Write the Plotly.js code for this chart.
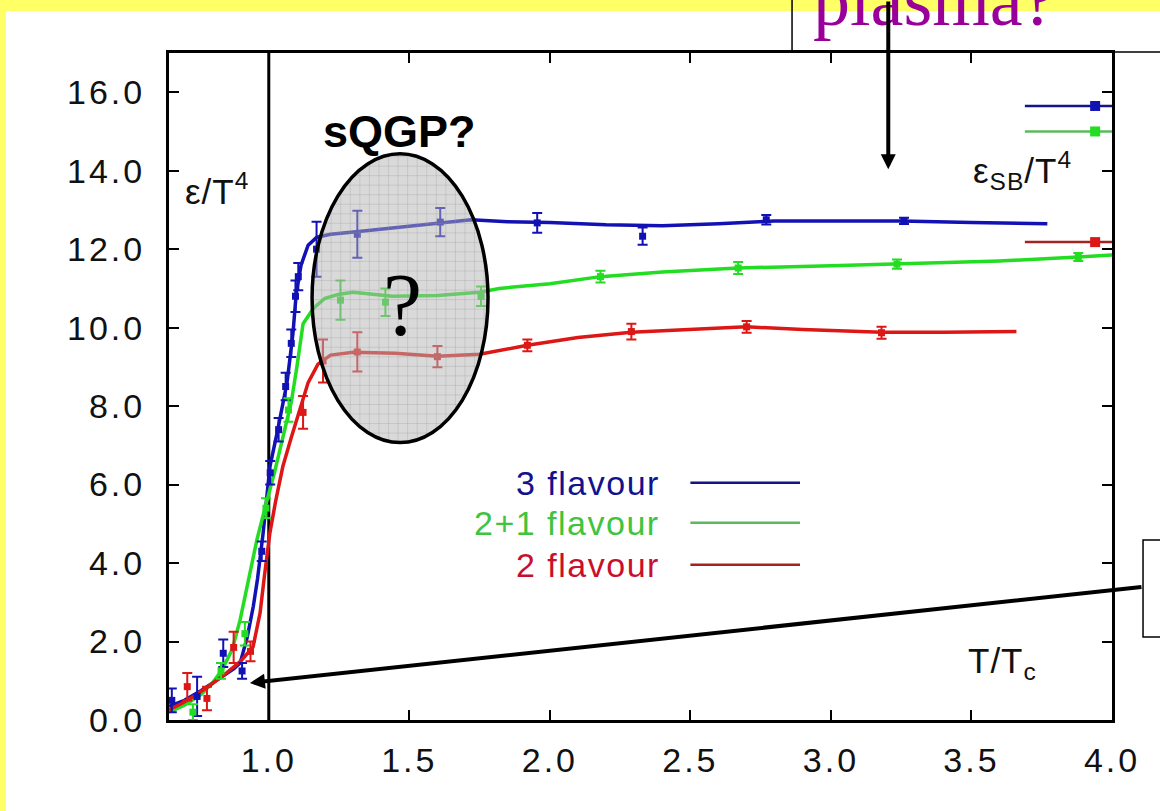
<!DOCTYPE html>
<html>
<head>
<meta charset="utf-8">
<script src="https://cdn.plot.ly/plotly-3.0.1.min.js"></script>
<style>
  html, body { margin: 0; padding: 0; background: #ffffff; }
  #chart { width: 1160px; height: 811px; }
  .xtick text, .ytick text { letter-spacing: 3px; }
</style>
</head>
<body>
<div id="chart"></div>
<script>
// Energy density over T^4 against T/Tc for lattice QCD with different flavour content.

const T_C = 1.0;

// Smooth curves through the lattice results
const flav3CurveT = [0.645, 0.70, 0.76, 0.82, 0.875, 0.898, 0.923, 0.945, 0.96, 0.98, 1.004, 1.03, 1.065, 1.086, 1.098, 1.115, 1.14, 1.17, 1.22, 1.32, 1.45, 1.60, 1.72, 1.85, 2.0, 2.2, 2.4, 2.6, 2.8, 3.0, 3.25, 3.5, 3.77];
const flav3CurveE = [0.35, 0.50, 0.75, 1.05, 1.30, 1.45, 2.10, 2.90, 3.60, 4.77, 6.46, 7.33, 8.60, 9.85, 10.9, 11.6, 12.1, 12.3, 12.38, 12.45, 12.55, 12.65, 12.75, 12.70, 12.68, 12.62, 12.60, 12.65, 12.72, 12.72, 12.72, 12.68, 12.65];

const flav21CurveT = [0.645, 0.70, 0.76, 0.80, 0.834, 0.87, 0.898, 0.93, 0.958, 0.99, 1.02, 1.05, 1.08, 1.10, 1.122, 1.16, 1.20, 1.25, 1.30, 1.44, 1.60, 1.75, 1.82, 2.0, 2.18, 2.4, 2.67, 3.0, 3.235, 3.6, 3.88, 4.0];
const flav21CurveE = [0.20, 0.38, 0.65, 0.95, 1.28, 1.80, 2.55, 3.60, 4.60, 5.50, 6.30, 7.20, 8.10, 9.00, 10.1, 10.5, 10.75, 10.85, 10.9, 10.8, 10.82, 10.9, 11.0, 11.12, 11.3, 11.42, 11.52, 11.58, 11.62, 11.70, 11.80, 11.85];

const flav2CurveT = [0.645, 0.69, 0.73, 0.79, 0.85, 0.90, 0.944, 0.969, 0.985, 1.004, 1.025, 1.05, 1.08, 1.11, 1.14, 1.175, 1.22, 1.30, 1.45, 1.60, 1.75, 1.92, 2.1, 2.29, 2.5, 2.7, 2.9, 3.18, 3.4, 3.66];
const flav2CurveE = [0.26, 0.42, 0.59, 0.88, 1.20, 1.50, 1.86, 2.73, 3.70, 4.77, 5.60, 6.46, 7.20, 7.90, 8.60, 9.07, 9.30, 9.37, 9.35, 9.27, 9.32, 9.55, 9.75, 9.88, 9.95, 10.02, 9.95, 9.88, 9.88, 9.90];

// Lattice data points with statistical errors
const flav3PtT   = [0.655, 0.745, 0.838, 0.905, 0.975, 1.005, 1.035, 1.06, 1.08, 1.095, 1.105, 1.17, 1.315, 1.61, 1.955, 2.33, 2.77, 3.26];
const flav3PtE   = [0.50, 0.60, 1.70, 1.25, 4.30, 6.30, 7.40, 8.50, 9.60, 10.8, 11.3, 12.0, 12.38, 12.69, 12.67, 12.33, 12.75, 12.72];
const flav3PtErr = [0.30, 0.50, 0.35, 0.20, 0.25, 0.30, 0.30, 0.35, 0.35, 0.40, 0.35, 0.70, 0.60, 0.36, 0.25, 0.22, 0.12, 0.08];

const flav21PtT   = [0.73, 0.83, 0.915, 0.99, 1.07, 1.255, 1.415, 1.755, 2.18, 2.67, 3.235, 3.88];
const flav21PtE   = [0.20, 1.25, 2.20, 5.40, 7.90, 10.7, 10.65, 10.8, 11.3, 11.52, 11.62, 11.8];
const flav21PtErr = [0.20, 0.20, 0.30, 0.25, 0.30, 0.50, 0.35, 0.25, 0.15, 0.15, 0.12, 0.10];

const flav2PtT   = [0.71, 0.78, 0.875, 0.935, 1.122, 1.193, 1.315, 1.60, 1.92, 2.29, 2.70, 3.18];
const flav2PtE   = [0.85, 0.55, 1.85, 1.75, 7.84, 9.15, 9.38, 9.26, 9.55, 9.90, 10.02, 9.87];
const flav2PtErr = [0.35, 0.30, 0.40, 0.25, 0.42, 0.55, 0.50, 0.27, 0.15, 0.20, 0.15, 0.15];

// Stefan-Boltzmann limits (3, 2+1, 2 flavours)
const sbLimits = [15.65, 15.0, 12.18];
const sbSegmentT = [3.69, 4.02];
const sbMarkerT = 3.94;

// Axis ticks
const xTickVals = [1.0, 1.5, 2.0, 2.5, 3.0, 3.5, 4.0];
const xTickText = ['1.0', '1.5', '2.0', '2.5', '3.0', '3.5', '4.0'];
const yTickVals = [0, 2, 4, 6, 8, 10, 12, 14, 16];
const yTickText = ['0.0', '2.0', '4.0', '6.0', '8.0', '10.0', '12.0', '14.0', '16.0'];

// Series names and colours
const seriesNames = ['3 flavour', '2+1 flavour', '2 flavour'];
const lineColors  = ['#1212b4', '#22dd22', '#dd1616'];
const textColors  = ['#12128e', '#3ec43e', '#c8102e'];
const keyColors   = ['#141488', '#5cb85c', '#a52222'];

const curves = [
  [flav3CurveT, flav3CurveE],
  [flav21CurveT, flav21CurveE],
  [flav2CurveT, flav2CurveE]
];
const points = [
  [flav3PtT, flav3PtE, flav3PtErr],
  [flav21PtT, flav21PtE, flav21PtErr],
  [flav2PtT, flav2PtE, flav2PtErr]
];

const traces = [];
curves.forEach((c, i) => {
  traces.push({
    x: c[0], y: c[1], type: 'scatter', mode: 'lines',
    line: { color: lineColors[i], width: 3.5 },
    name: seriesNames[i], hoverinfo: 'skip'
  });
});
points.forEach((p, i) => {
  traces.push({
    x: p[0], y: p[1], type: 'scatter', mode: 'markers',
    marker: { symbol: 'square', size: 7, color: lineColors[i] },
    error_y: { type: 'data', array: p[2], visible: true, color: lineColors[i], thickness: 2, width: 5 },
    name: seriesNames[i], showlegend: false
  });
});
sbLimits.forEach((v, i) => {
  traces.push({
    x: sbSegmentT, y: [v, v], type: 'scatter', mode: 'lines',
    line: { color: keyColors[i], width: 2.5 }, cliponaxis: false, hoverinfo: 'skip'
  });
  traces.push({
    x: [sbMarkerT], y: [v], type: 'scatter', mode: 'markers',
    marker: { symbol: 'square', size: 10, color: lineColors[i] }, cliponaxis: false
  });
});

// Key entries: text on the left, sample line on the right
const keyY = [6.05, 5.03, 3.96];
const keyTextT = 2.40;
const keyLineT = [2.5, 2.89];

// Region marked as a possible strongly coupled plasma
const blob = { x0: 1.154, x1: 1.78, y0: 7.07, y1: 14.43 };
const hatchStepT = 0.034, hatchStepE = 0.243;

// Fine hatch grid clipped to the ellipse
function hatchPath(b) {
  const cx = (b.x0 + b.x1) / 2, cy = (b.y0 + b.y1) / 2;
  const rx = (b.x1 - b.x0) / 2, ry = (b.y1 - b.y0) / 2;
  let d = '';
  for (let x = b.x0 + hatchStepT; x < b.x1; x += hatchStepT) {
    const u = (x - cx) / rx;
    if (Math.abs(u) >= 1) continue;
    const h = ry * Math.sqrt(1 - u * u);
    d += 'M' + x + ',' + (cy - h) + 'L' + x + ',' + (cy + h);
  }
  for (let y = b.y0 + hatchStepE; y < b.y1; y += hatchStepE) {
    const v = (y - cy) / ry;
    if (Math.abs(v) >= 1) continue;
    const w = rx * Math.sqrt(1 - v * v);
    d += 'M' + (cx - w) + ',' + y + 'L' + (cx + w) + ',' + y;
  }
  return d;
}

const shapes = [
  // yellow slide border
  { type: 'rect', xref: 'paper', yref: 'paper', x0: -0.2, x1: 1.1, y0: 1.063, y1: 1.1,
    fillcolor: '#ffff66', line: { width: 0 }, layer: 'below' },
  { type: 'rect', xref: 'paper', yref: 'paper', x0: -0.2, x1: -0.1729, y0: -0.2, y1: 1.1,
    fillcolor: '#ffff66', line: { width: 0 }, layer: 'below' },
  // T = Tc
  { type: 'line', xref: 'x', yref: 'paper', x0: T_C, x1: T_C, y0: 0, y1: 1,
    line: { color: '#000', width: 3 }, layer: 'below' },
  // strongly coupled region
  { type: 'circle', xref: 'x', yref: 'y', x0: blob.x0, x1: blob.x1, y0: blob.y0, y1: blob.y1,
    fillcolor: 'rgba(180,180,180,0.5)', line: { width: 0 }, layer: 'above' },
  { type: 'path', xref: 'x', yref: 'y', path: hatchPath(blob),
    line: { color: 'rgba(150,150,150,0.28)', width: 1 }, layer: 'above' },
  { type: 'circle', xref: 'x', yref: 'y', x0: blob.x0, x1: blob.x1, y0: blob.y0, y1: blob.y1,
    fillcolor: 'rgba(0,0,0,0)', line: { color: '#000', width: 3.5 }, layer: 'above' },
  // callout boxes
  { type: 'rect', xref: 'paper', yref: 'paper', x0: 0.6607, x1: 1.1, y0: 1.0015, y1: 1.2,
    fillcolor: 'rgba(0,0,0,0)', line: { color: '#000', width: 1.5 } },
  { type: 'rect', xref: 'paper', yref: 'paper', x0: 1.0329, x1: 1.1, y0: 0.1244, y1: 0.2699,
    fillcolor: '#fff', line: { color: '#000', width: 1.5 } }
];
keyY.forEach((y, i) => {
  shapes.push({ type: 'line', xref: 'x', yref: 'y', x0: keyLineT[0], x1: keyLineT[1], y0: y, y1: y,
    line: { color: keyColors[i], width: 2.5 } });
});

const sp = (s, px) => '<span style="letter-spacing:' + px + 'px">' + s + '</span>';

const annotations = [];
keyY.forEach((y, i) => {
  annotations.push({ xref: 'x', yref: 'y', x: keyTextT, y: y, xanchor: 'right', yanchor: 'middle',
    text: sp(seriesNames[i], 1.5), showarrow: false,
    font: { family: 'Liberation Sans, Arial, sans-serif', size: 34, color: textColors[i] } });
});
annotations.push(
  { xref: 'x', yref: 'y', x: 1.464, y: 14.99, text: '<b>sQGP?</b>', showarrow: false,
    font: { family: 'Liberation Sans, Arial, sans-serif', size: 45, color: '#000' } },
  { xref: 'x', yref: 'y', x: 1.474, y: 10.6, text: '?', showarrow: false,
    font: { family: 'Liberation Serif, Times New Roman, serif', size: 88, color: '#000' } },
  { xref: 'paper', yref: 'paper', x: 0.681, y: 1.0795, xanchor: 'left', yanchor: 'middle',
    text: 'plasma?', showarrow: false,
    font: { family: 'Liberation Serif, Times New Roman, serif', size: 74, color: '#990099' } },
  { xref: 'x', yref: 'y', x: 0.695, y: 13.53, xanchor: 'left', yanchor: 'middle',
    text: sp('ε/T<sup>4</sup>', 1), showarrow: false,
    font: { family: 'Liberation Sans, Arial, sans-serif', size: 35, color: '#111' } },
  { xref: 'x', yref: 'y', x: 3.50, y: 14.0, xanchor: 'left', yanchor: 'middle',
    text: sp('ε<sub>SB</sub>/T<sup>4</sup>', 1), showarrow: false,
    font: { family: 'Liberation Sans, Arial, sans-serif', size: 35, color: '#111' } },
  { xref: 'x', yref: 'y', x: 3.48, y: 1.45, xanchor: 'left', yanchor: 'middle',
    text: sp('T/T<sub>c</sub>', 1), showarrow: false,
    font: { family: 'Liberation Sans, Arial, sans-serif', size: 35, color: '#111' } },
  // pointers
  { xref: 'x', yref: 'y', x: 3.204, y: 14.04, ax: 0, ay: -180, text: '', showarrow: true,
    arrowhead: 2, arrowsize: 0.75, arrowwidth: 4, arrowcolor: '#000', standoff: 0 },
  { xref: 'x', yref: 'y', x: 0.933, y: 0.945, ax: 893, ay: -96, text: '', showarrow: true,
    arrowhead: 2, arrowsize: 0.75, arrowwidth: 4, arrowcolor: '#000', standoff: 0 }
);

const axisCommon = {
  ticks: 'inside', ticklen: 10, tickwidth: 2, tickcolor: '#000',
  showline: true, linewidth: 3, linecolor: '#000', mirror: 'ticks',
  showgrid: false, zeroline: false,
  tickfont: { family: 'Liberation Sans, Arial, sans-serif', size: 34, color: '#111' }
};

const layout = {
  width: 1160, height: 811,
  margin: { l: 169, r: 48, t: 53, b: 91 },
  paper_bgcolor: '#ffffff', plot_bgcolor: '#ffffff',
  showlegend: false,
  xaxis: Object.assign({}, axisCommon, {
    range: [0.645, 4.0], tickmode: 'array', tickvals: xTickVals, ticktext: xTickText,
    ticklabelstandoff: 8
  }),
  yaxis: Object.assign({}, axisCommon, {
    range: [0, 17], tickmode: 'array', tickvals: yTickVals, ticktext: yTickText,
    ticklabelstandoff: 14
  }),
  shapes: shapes,
  annotations: annotations
};

Plotly.newPlot('chart', traces, layout, { staticPlot: true, displayModeBar: false });
</script>
</body>
</html>
